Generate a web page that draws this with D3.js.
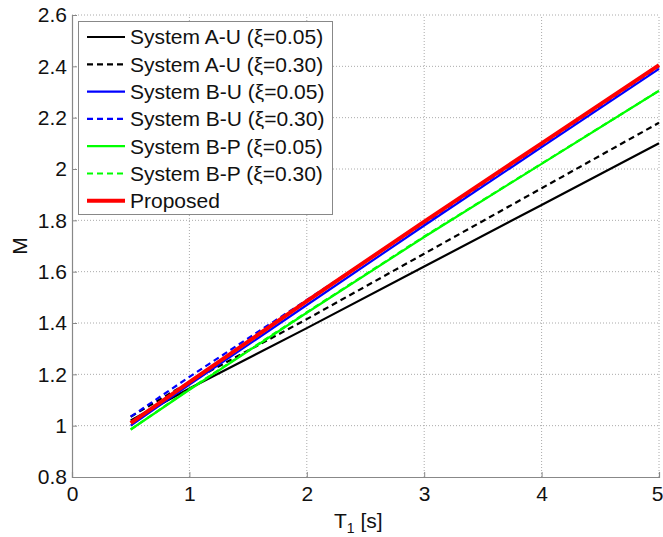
<!DOCTYPE html>
<html><head><meta charset="utf-8">
<script src="https://cdn.jsdelivr.net/npm/d3@7"></script>
<style>body{margin:0;background:#fff}svg{display:block}text{font-family:"Liberation Sans",Arial,sans-serif}</style>
</head><body><svg id="c" width="663" height="537"></svg>
<script>
const T = [0.5, 1, 2, 3, 4, 5];
const seriesNames = ["System A-U (\u03BE=0.05)","System A-U (\u03BE=0.30)","System B-U (\u03BE=0.05)","System B-U (\u03BE=0.30)","System B-P (\u03BE=0.05)","System B-P (\u03BE=0.30)","Proposed"];
const aU005 = [1.02, 1.145, 1.38, 1.62, 1.86, 2.10];
const aU030 = [1.035, 1.17, 1.415, 1.67, 1.925, 2.18];
const bU005 = [1.00, 1.16, 1.47, 1.78, 2.085, 2.39];
const bU030 = [1.035, 1.19, 1.49, 1.79, 2.095, 2.40];
const bP005 = [0.985, 1.14, 1.44, 1.735, 2.02, 2.305];
const bP030 = [0.985, 1.142, 1.442, 1.737, 2.021, 2.305];
const prop  = [1.01, 1.17, 1.485, 1.795, 2.10, 2.405];
const xTicks = [0,1,2,3,4,5];
const yTicks = [0.8,1,1.2,1.4,1.6,1.8,2,2.2,2.4,2.6];

const styles = [
 {c:"#000", w:2.2, d:null},
 {c:"#000", w:2.2, d:"6,4"},
 {c:"#0000ff", w:2.2, d:null},
 {c:"#0000ff", w:2.2, d:"6,4"},
 {c:"#00ff00", w:2.2, d:null},
 {c:"#00ff00", w:2.2, d:"6,4"},
 {c:"#ff0000", w:4, d:null}
];
const data = [aU005,aU030,bU005,bU030,bP005,bP030,prop];

const svg = d3.select("#c");
const L=72,R=659,Tp=15,B=477;
const FS=21;
const x = d3.scaleLinear().domain([0,5]).range([L,R]);
const y = d3.scaleLinear().domain([0.8,2.6]).range([B,Tp]);

// grid
const g = svg.append("g");
g.selectAll(".gx").data(xTicks.slice(1)).enter().append("line")
 .attr("x1",d=>x(d)).attr("x2",d=>x(d)).attr("y1",B).attr("y2",Tp)
 .attr("stroke","#aaa").attr("stroke-width",1).attr("stroke-dasharray","1,2");
g.selectAll(".gy").data(yTicks.slice(1)).enter().append("line")
 .attr("y1",d=>y(d)).attr("y2",d=>y(d)).attr("x1",L).attr("x2",R)
 .attr("stroke","#aaa").attr("stroke-width",1).attr("stroke-dasharray","1,2");

// axes
const xa = svg.append("g").attr("transform",`translate(0,${B})`)
 .call(d3.axisBottom(x).tickValues(xTicks).tickSize(-5).tickPadding(9).tickFormat(d3.format("d")));
const ya = svg.append("g").attr("transform",`translate(${L},0)`)
 .call(d3.axisLeft(y).tickValues(yTicks).tickSize(-5).tickPadding(5).tickFormat(d=>String(+d.toFixed(1))));
[xa,ya].forEach(a=>{
 a.select(".domain").attr("stroke","#888").attr("stroke-width",1.2);
 a.selectAll(".tick line").attr("stroke","#888");
 a.selectAll("text").attr("font-size",FS).attr("fill","#111").attr("font-family","Liberation Sans, Arial, sans-serif");
});
xa.selectAll("text").attr("dy","0.71em");
xa.selectAll(".tick").filter(d=>d===5).select("text").attr("dx",-2);

// lines
const line = d3.line().x((d,i)=>x(T[i])).y(d=>y(d));
data.forEach((s,k)=>{
 svg.append("path").datum(s).attr("d",line).attr("fill","none")
  .attr("stroke",styles[k].c).attr("stroke-width",styles[k].w)
  .attr("stroke-dasharray",styles[k].d);
});

// legend
const lg = svg.append("g");
lg.append("rect").attr("x",78.5).attr("y",21.5).attr("width",254).attr("height",193)
 .attr("fill","#fff").attr("stroke","#888").attr("stroke-width",1);
seriesNames.forEach((n,k)=>{
 const yy = 37 + k*27.3;
 lg.append("line").attr("x1",87).attr("x2",125).attr("y1",yy).attr("y2",yy)
  .attr("stroke",styles[k].c).attr("stroke-width",styles[k].w).attr("stroke-dasharray",styles[k].d);
 lg.append("text").attr("x",130).attr("y",yy).attr("dy","0.35em").attr("font-size",FS).attr("fill","#111").text(n);
});

// axis labels
const xl = svg.append("text").attr("x",334).attr("y",528).attr("font-size",FS).attr("fill","#111");
xl.append("tspan").text("T");
xl.append("tspan").attr("font-size",14).attr("dy",5).text("1");
xl.append("tspan").attr("dy",-5).text(" [s]");
svg.append("text").attr("transform","translate(27,246) rotate(-90)").attr("text-anchor","middle")
 .attr("font-size",FS).attr("fill","#111").text("M");
</script></body></html>
